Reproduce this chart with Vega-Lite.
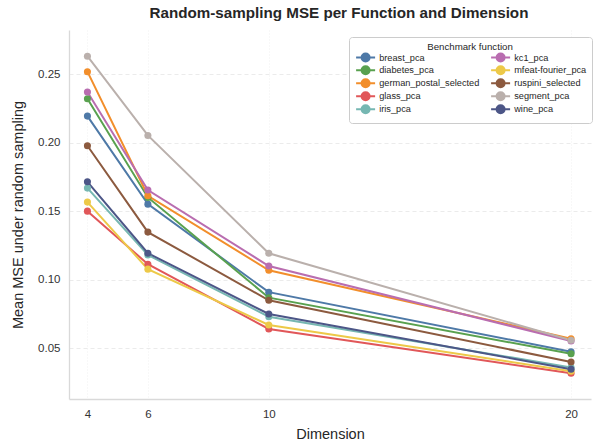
{
  "$schema": "https://vega.github.io/schema/vega-lite/v6.json",
  "width": 522,
  "height": 369,
  "autosize": {"type": "none"},
  "padding": {"left": 69, "top": 30, "right": 2, "bottom": 43},
  "background": "white",
  "title": {
    "text": "Random-sampling MSE per Function and Dimension",
    "font": "Liberation Sans",
    "fontSize": 15.2,
    "fontWeight": "bold",
    "color": "#262626",
    "anchor": "middle",
    "dx": 9,
    "offset": 9
  },
  "data": {
    "values": [
      {"function": "breast_pca", "dim": 4, "mse": 0.2193},
      {"function": "breast_pca", "dim": 6, "mse": 0.1551},
      {"function": "breast_pca", "dim": 10, "mse": 0.0909},
      {"function": "breast_pca", "dim": 20, "mse": 0.0475},
      {"function": "diabetes_pca", "dim": 4, "mse": 0.2320},
      {"function": "diabetes_pca", "dim": 6, "mse": 0.1600},
      {"function": "diabetes_pca", "dim": 10, "mse": 0.0869},
      {"function": "diabetes_pca", "dim": 20, "mse": 0.0460},
      {"function": "german_postal_selected", "dim": 4, "mse": 0.2517},
      {"function": "german_postal_selected", "dim": 6, "mse": 0.1612},
      {"function": "german_postal_selected", "dim": 10, "mse": 0.1069},
      {"function": "german_postal_selected", "dim": 20, "mse": 0.0570},
      {"function": "glass_pca", "dim": 4, "mse": 0.1500},
      {"function": "glass_pca", "dim": 6, "mse": 0.1113},
      {"function": "glass_pca", "dim": 10, "mse": 0.0641},
      {"function": "glass_pca", "dim": 20, "mse": 0.0318},
      {"function": "iris_pca", "dim": 4, "mse": 0.1668},
      {"function": "iris_pca", "dim": 6, "mse": 0.1180},
      {"function": "iris_pca", "dim": 10, "mse": 0.0730},
      {"function": "iris_pca", "dim": 20, "mse": 0.0360},
      {"function": "kc1_pca", "dim": 4, "mse": 0.2369},
      {"function": "kc1_pca", "dim": 6, "mse": 0.1654},
      {"function": "kc1_pca", "dim": 10, "mse": 0.1100},
      {"function": "kc1_pca", "dim": 20, "mse": 0.0553},
      {"function": "mfeat-fourier_pca", "dim": 4, "mse": 0.1566},
      {"function": "mfeat-fourier_pca", "dim": 6, "mse": 0.1077},
      {"function": "mfeat-fourier_pca", "dim": 10, "mse": 0.0670},
      {"function": "mfeat-fourier_pca", "dim": 20, "mse": 0.0333},
      {"function": "ruspini_selected", "dim": 4, "mse": 0.1977},
      {"function": "ruspini_selected", "dim": 6, "mse": 0.1347},
      {"function": "ruspini_selected", "dim": 10, "mse": 0.0850},
      {"function": "ruspini_selected", "dim": 20, "mse": 0.0400},
      {"function": "segment_pca", "dim": 4, "mse": 0.2630},
      {"function": "segment_pca", "dim": 6, "mse": 0.2052},
      {"function": "segment_pca", "dim": 10, "mse": 0.1193},
      {"function": "segment_pca", "dim": 20, "mse": 0.0558},
      {"function": "wine_pca", "dim": 4, "mse": 0.1714},
      {"function": "wine_pca", "dim": 6, "mse": 0.1193},
      {"function": "wine_pca", "dim": 10, "mse": 0.0750},
      {"function": "wine_pca", "dim": 20, "mse": 0.0347}
    ]
  },
  "mark": {"type": "line", "strokeWidth": 2, "point": {"filled": true, "size": 50, "opacity": 1}},
  "encoding": {
    "x": {
      "field": "dim",
      "type": "quantitative",
      "title": "Dimension",
      "scale": {"domain": [3.39, 20.66], "nice": false, "zero": false},
      "axis": {"values": [4, 6, 10, 20], "format": "d", "gridDash": [1, 2], "gridColor": "#ececec"}
    },
    "y": {
      "field": "mse",
      "type": "quantitative",
      "title": "Mean MSE under random sampling",
      "scale": {"domain": [0.013, 0.2821], "nice": false, "zero": false},
      "axis": {"values": [0.05, 0.1, 0.15, 0.2, 0.25], "format": ".2f", "gridDash": [4, 3], "gridColor": "#e6e6e6"}
    },
    "color": {
      "field": "function",
      "type": "nominal",
      "title": "Benchmark function",
      "scale": {
        "domain": ["breast_pca", "diabetes_pca", "german_postal_selected", "glass_pca", "iris_pca", "kc1_pca", "mfeat-fourier_pca", "ruspini_selected", "segment_pca", "wine_pca"],
        "range": ["#4e79a7", "#59a14f", "#f28e2b", "#e15759", "#76b7b2", "#b96db0", "#edc948", "#8c5a3f", "#bab0ac", "#4c5687"]
      },
      "legend": {
        "orient": "none",
        "legendX": 280,
        "legendY": 7,
        "columns": 2,
        "columnPadding": 7,
        "rowPadding": -6,
        "symbolType": "M -3.8 0 L 3.8 0 M -1.6 0 A 1.6 1.6 0 1 1 1.6 0 A 1.6 1.6 0 1 1 -1.6 0",
        "symbolSize": 25,
        "symbolStrokeWidth": 2,
        "symbolOpacity": 1,
        "symbolOffset": 7,
        "labelOffset": 9,
        "labelFont": "Liberation Sans",
        "labelFontSize": 9.2,
        "labelColor": "#262626",
        "titleFont": "Liberation Sans",
        "titleFontSize": 9.7,
        "titleFontWeight": "normal",
        "titleColor": "#262626",
        "titleAnchor": "middle",
        "titlePadding": 1,
        "fillColor": "white",
        "strokeColor": "#cccccc",
        "cornerRadius": 3,
        "padding": 5,
        "encode": {
          "symbols": {"update": {"fill": {"scale": "color", "field": "value"}}}
        }
      }
    }
  },
  "config": {
    "view": {"stroke": null},
    "axis": {
      "labelFont": "Liberation Sans",
      "labelFontSize": 11.5,
      "labelColor": "#333333",
      "titleFont": "Liberation Sans",
      "titleFontSize": 14.5,
      "titleFontWeight": "normal",
      "titleColor": "#262626",
      "domainColor": "#d9d9d9",
      "domainWidth": 1.3,
      "ticks": false,
      "labelPadding": 9,
      "grid": true,
      "gridWidth": 0.8
    },
    "axisX": {"titlePadding": 8},
    "axisY": {"titlePadding": 12}
  }
}
